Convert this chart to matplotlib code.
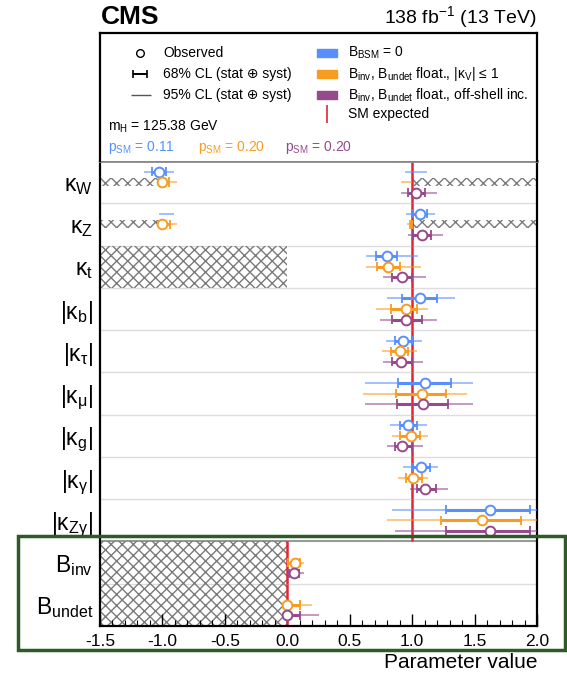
import matplotlib
matplotlib.use("Agg")
import matplotlib.pyplot as plt
import numpy as np
from matplotlib.patches import Rectangle
from matplotlib.ticker import MultipleLocator, FormatStrFormatter

plt.rcParams["font.family"] = ["Liberation Sans", "DejaVu Sans"]
plt.rcParams["mathtext.fontset"] = "custom"
plt.rcParams["mathtext.rm"] = "Liberation Sans"
plt.rcParams["mathtext.it"] = "Liberation Sans:italic"
plt.rcParams["mathtext.bf"] = "Liberation Sans:bold"
plt.rcParams["mathtext.default"] = "regular"
plt.rcParams["axes.unicode_minus"] = False
plt.rcParams["hatch.linewidth"] = 1.0

# parameters (top to bottom)
labels = [r"κ$_{\rm W}$", r"κ$_{\rm Z}$", r"κ$_{\rm t}$", r"|κ$_{\rm b}$|", r"|κ$_{\rm τ}$|",
          r"|κ$_{\rm μ}$|", r"|κ$_{\rm g}$|", r"|κ$_{\rm γ}$|", r"|κ$_{\rm Zγ}$|",
          r"B$_{\rm inv}$", r"B$_{\rm undet}$"]
sm_values = [1, 1, 1, 1, 1, 1, 1, 1, 1, 0, 0]

# B_BSM = 0
blue_obs = [-1.03, 1.06, 0.80, 1.06, 0.93, 1.10, 0.97, 1.07, 1.62, None, None]
blue_68 = [[(-1.08, -0.97)], [(1.00, 1.12)], [(0.71, 0.88)], [(0.92, 1.20)], [(0.86, 1.00)],
           [(0.89, 1.31)], [(0.90, 1.04)], [(1.00, 1.14)], [(1.27, 1.94)], [], []]
blue_95 = [[(-1.15, -0.91), (0.94, 1.12)], [(-1.03, -0.91), (0.95, 1.18)], [(0.63, 1.05)],
           [(0.80, 1.34)], [(0.79, 1.08)], [(0.62, 1.49)], [(0.82, 1.12)], [(0.93, 1.21)],
           [(0.84, 2.30)], [], []]

# B_inv, B_undet floating, |kV| <= 1
orange_obs = [-1.00, -1.00, 0.81, 0.95, 0.90, 1.08, 0.99, 1.01, 1.56, 0.064, 0.0]
orange_68 = [[(-1.00, -0.95)], [(-1.00, -0.94), (0.985, 1.00)], [(0.72, 0.90)], [(0.83, 1.04)],
             [(0.83, 0.97)], [(0.87, 1.27)], [(0.90, 1.06)], [(0.95, 1.08)], [(1.23, 1.87)],
             [(0.008, 0.10)], [(0.0, 0.10)]]
orange_95 = [[(-1.00, -0.88), (0.91, 1.00)], [(-1.00, -0.88), (0.96, 1.00)], [(0.63, 1.07)],
             [(0.71, 1.13)], [(0.76, 1.04)], [(0.61, 1.44)], [(0.84, 1.13)], [(0.89, 1.13)],
             [(0.80, 2.30)], [(0.0, 0.13)], [(0.0, 0.20)]]

# B_inv, B_undet floating, off-shell included
purple_obs = [1.03, 1.08, 0.92, 0.95, 0.91, 1.09, 0.92, 1.10, 1.62, 0.05, 0.0]
purple_68 = [[(0.97, 1.10)], [(1.01, 1.15)], [(0.84, 1.00)], [(0.84, 1.08)], [(0.84, 1.00)],
             [(0.88, 1.29)], [(0.86, 1.00)], [(1.04, 1.19)], [(1.27, 1.94)],
             [(0.01, 0.09)], [(0.0, 0.10)]]
purple_95 = [[(0.91, 1.20)], [(0.97, 1.25)], [(0.77, 1.11)], [(0.74, 1.20)], [(0.77, 1.09)],
             [(0.62, 1.49)], [(0.80, 1.09)], [(0.98, 1.29)], [(0.86, 2.30)],
             [(0.0, 0.13)], [(0.0, 0.25)]]

# excluded (hatched) regions
strip_hatch = [(0, -1.5, -1.0), (0, 1.0, 2.0), (1, -1.5, -1.0), (1, 1.0, 2.0)]
row_hatch = [(2, 2, -1.5, 0.0), (9, 10, -1.5, 0.0)]

c_blue, c_orange, c_purple, c_red = "#5790fc", "#f89c20", "#964a8b", "#e42536"

W, H = 567, 673
fig = plt.figure(figsize=(W / 100, H / 100), dpi=100)

ax = fig.add_axes([100 / W, (H - 626) / H, 437 / W, (626 - 161) / H])
n = len(labels)
ax.set_xlim(-1.5, 2.0)
ax.set_ylim(n - 0.5, -0.5)

for i in range(1, n):
    if i == 9:
        ax.axhline(i - 0.5, color="#999999", lw=1.5, zorder=1)
    else:
        ax.axhline(i - 0.5, color="#dddddd", lw=1.0, zorder=1)

for r, x0, x1 in strip_hatch:
    ax.barh(r, x1 - x0, left=x0, height=0.19, facecolor="none", edgecolor="#7a7a7a",
            hatch="xxx", linewidth=0, zorder=1.5)
for r0, r1, x0, x1 in row_hatch:
    ax.barh((r0 + r1) / 2, x1 - x0, left=x0, height=r1 - r0 + 1, facecolor="none",
            edgecolor="#7a7a7a", hatch="xxx", linewidth=0, zorder=1.5)

for i, v in enumerate(sm_values):
    ax.vlines(v, i - 0.5, i + 0.5, color=c_red, lw=1.8, zorder=2)

series = [(blue_obs, blue_68, blue_95, c_blue, -0.25),
          (orange_obs, orange_68, orange_95, c_orange, 0.0),
          (purple_obs, purple_68, purple_95, c_purple, 0.25)]
for obs, ci68, ci95, col, off in series:
    for i in range(n):
        y = i + off
        for a, b in ci95[i]:
            ax.hlines(y, a, b, color=col, alpha=0.6, lw=1.3, zorder=3)
        for a, b in ci68[i]:
            ax.hlines(y, a, b, color=col, lw=2.2, zorder=4)
            ax.vlines([a, b], y - 0.11, y + 0.11, color=col, lw=1.3, zorder=4)
        if obs[i] is not None:
            ax.plot(obs[i], y, "o", mfc="white", mec=col, ms=7, mew=1.4, zorder=5,
                    clip_on=False)

ax.set_yticks(range(n))
ax.set_yticklabels(labels)
ax.tick_params(axis="y", length=0, pad=5, labelsize=16.5)
ax.xaxis.set_major_locator(MultipleLocator(0.5))
ax.xaxis.set_minor_locator(MultipleLocator(0.1))
ax.xaxis.set_major_formatter(FormatStrFormatter("%.1f"))
ax.tick_params(axis="x", which="major", direction="in", length=9, width=1, labelsize=12.5, pad=6)
ax.tick_params(axis="x", which="minor", direction="in", length=4.5, width=0.8)
for s in ["left", "right", "bottom"]:
    ax.spines[s].set_linewidth(1.6)
ax.spines["top"].set_color("#888888")
ax.spines["top"].set_linewidth(2)

# legend panel
axl = fig.add_axes([100 / W, (H - 161) / H, 437 / W, 128 / H])
axl.set_xlim(100, 537)
axl.set_ylim(161, 33)
axl.set_xticks([])
axl.set_yticks([])
for s in ["left", "right", "top"]:
    axl.spines[s].set_linewidth(1.6)
axl.spines["bottom"].set_visible(False)

fs = 10
axl.plot(140, 53, "o", mfc="white", mec="black", ms=5.5, mew=1)
axl.text(163, 53, "Observed", fontsize=fs, va="center")
axl.hlines(74, 133, 147, color="black", lw=1.4)
axl.vlines([133, 147], 70, 78, color="black", lw=1.2)
axl.text(163, 74, "68% CL (stat ⊕ syst)", fontsize=fs, va="center")
axl.hlines(95, 131, 151, color="#555555", lw=1)
axl.text(163, 95, "95% CL (stat ⊕ syst)", fontsize=fs, va="center")

leg_right = [(c_blue, r"B$_{\rm BSM}$ = 0"),
             (c_orange, r"B$_{\rm inv}$, B$_{\rm undet}$ float., |κ$_{\rm V}$| ≤ 1"),
             (c_purple, r"B$_{\rm inv}$, B$_{\rm undet}$ float., off-shell inc.")]
for k, (col, txt) in enumerate(leg_right):
    yy = 53 + 21 * k
    axl.add_patch(Rectangle((317, yy - 4), 20, 8, color=col))
    axl.text(348, yy, txt, fontsize=fs, va="center")
axl.vlines(327, 105, 123, color=c_red, lw=1.2)
axl.text(348, 114, "SM expected", fontsize=fs, va="center")
axl.text(108, 127, r"m$_{\rm H}$ = 125.38 GeV", fontsize=fs, va="center")

p_sm = ["0.11", "0.20", "0.20"]
for x, col, p in zip([108, 198, 285], [c_blue, c_orange, c_purple], p_sm):
    axl.text(x, 148, r"p$_{\rm SM}$ = " + p, fontsize=fs, va="center", color=col)

fig.text(101 / W, 1 - 17 / H, "CMS", fontsize=19, fontweight="bold", va="center")
fig.text(537 / W, 1 - 17 / H, r"138 fb$^{-1}$ (13 TeV)", fontsize=14, ha="right", va="center")
fig.text(537 / W, 1 - 663 / H, "Parameter value", fontsize=15, ha="right", va="center")

# green highlight box
fig.add_artist(Rectangle((18 / W, (H - 650) / H), 547 / W, 114 / H, transform=fig.transFigure,
                         fill=False, ec="#2e5a27", lw=2.5, zorder=10))

fig.savefig("out.png", dpi=100)
